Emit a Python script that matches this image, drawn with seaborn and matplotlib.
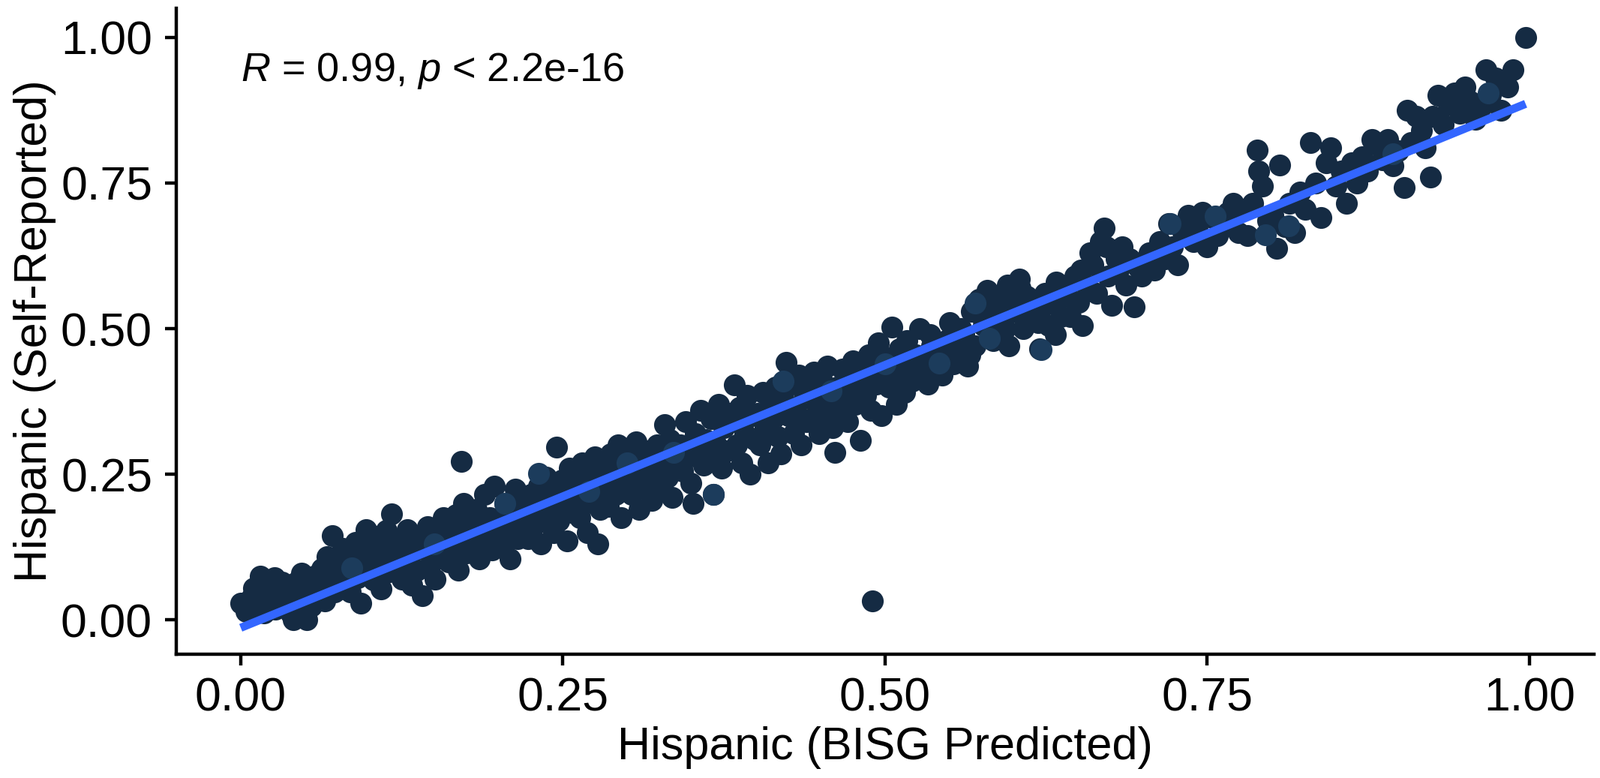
import matplotlib
matplotlib.use("Agg")
import matplotlib.pyplot as plt
import numpy as np
import pandas as pd
import seaborn as sns

# ---- data (Hispanic share per unit) ----
bisg = [
    0.000, 0.004, 0.008, 0.012, 0.015, 0.018, 0.019, 0.010,
    0.021, 0.024, 0.027, 0.030, 0.032, 0.035, 0.037, 0.039, 0.026, 0.033,
    0.041, 0.043, 0.045, 0.047, 0.049, 0.051, 0.053, 0.055, 0.057, 0.059,
    0.061, 0.063, 0.065, 0.067, 0.069, 0.071, 0.073, 0.075, 0.077, 0.079,
    0.081, 0.083, 0.085, 0.087, 0.089, 0.091, 0.093, 0.095, 0.097, 0.099,
    0.101, 0.103, 0.105, 0.107, 0.109, 0.111, 0.113, 0.115, 0.117, 0.119,
    0.121, 0.123, 0.125, 0.127, 0.129, 0.131, 0.133, 0.135, 0.137, 0.139,
    0.141, 0.143, 0.145, 0.147, 0.149, 0.151, 0.153, 0.155, 0.157, 0.159,
    0.161, 0.163, 0.165, 0.167, 0.169, 0.171, 0.173, 0.175, 0.177, 0.179, 0.171,
    0.181, 0.183, 0.185, 0.187, 0.189, 0.191, 0.193, 0.195, 0.197, 0.199,
    0.201, 0.203, 0.205, 0.207, 0.209, 0.211, 0.213, 0.215, 0.217, 0.219,
    0.221, 0.223, 0.225, 0.227, 0.229, 0.231, 0.233, 0.235, 0.237, 0.239,
    0.241, 0.243, 0.245, 0.247, 0.249, 0.251, 0.253, 0.255, 0.257, 0.259, 0.245,
    0.261, 0.263, 0.265, 0.267, 0.269, 0.271, 0.273, 0.275, 0.277, 0.279,
    0.281, 0.283, 0.285, 0.287, 0.289, 0.291, 0.293, 0.295, 0.297, 0.299,
    0.301, 0.303, 0.305, 0.307, 0.309, 0.311, 0.313, 0.315, 0.317, 0.319,
    0.321, 0.323, 0.325, 0.327, 0.329, 0.331, 0.333, 0.335, 0.337, 0.339,
    0.341, 0.343, 0.345, 0.347, 0.349, 0.351, 0.353, 0.355, 0.357, 0.359,
    0.361, 0.363, 0.365, 0.367, 0.369, 0.371, 0.373, 0.375, 0.377, 0.379,
    0.381, 0.383, 0.385, 0.387, 0.389, 0.391, 0.393, 0.395, 0.397, 0.399,
    0.401, 0.403, 0.405, 0.407, 0.409, 0.411, 0.413, 0.415, 0.417, 0.419,
    0.421, 0.423, 0.425, 0.427, 0.429, 0.431, 0.433, 0.435, 0.437, 0.439,
    0.441, 0.443, 0.445, 0.447, 0.449, 0.451, 0.453, 0.455, 0.457, 0.459,
    0.461, 0.463, 0.465, 0.467, 0.469, 0.471, 0.473, 0.475, 0.477, 0.479,
    0.481, 0.483, 0.485, 0.487, 0.489, 0.491, 0.493, 0.495, 0.497, 0.499, 0.490,
    0.501, 0.503, 0.505, 0.507, 0.509, 0.511, 0.513, 0.515, 0.517, 0.519,
    0.521, 0.524, 0.527, 0.530, 0.533, 0.536, 0.539, 0.526, 0.535,
    0.541, 0.544, 0.547, 0.550, 0.553, 0.556, 0.559, 0.546, 0.555,
    0.561, 0.564, 0.567, 0.570, 0.573, 0.576, 0.579, 0.566, 0.575,
    0.581, 0.584, 0.587, 0.590, 0.593, 0.596, 0.599, 0.586, 0.595,
    0.601, 0.604, 0.607, 0.610, 0.613, 0.616, 0.619, 0.605, 0.620,
    0.621, 0.624, 0.627, 0.630, 0.633, 0.636, 0.639, 0.632,
    0.641, 0.644, 0.647, 0.650, 0.653, 0.656, 0.659, 0.652,
    0.661, 0.664, 0.667, 0.670, 0.673, 0.676, 0.679, 0.672,
    0.681, 0.684, 0.687, 0.690, 0.693, 0.696, 0.699,
    0.702, 0.705, 0.709, 0.713, 0.717, 0.720,
    0.723, 0.727, 0.731, 0.735, 0.739,
    0.742, 0.746, 0.750, 0.754, 0.758,
    0.762, 0.766, 0.770, 0.774, 0.778,
    0.781, 0.785, 0.789, 0.793, 0.797, 0.790,
    0.801, 0.804, 0.806, 0.810, 0.814, 0.818,
    0.822, 0.826, 0.830, 0.834, 0.838,
    0.842, 0.846, 0.850, 0.854, 0.858,
    0.862, 0.866, 0.870, 0.874, 0.878,
    0.882, 0.886, 0.890, 0.894, 0.898,
    0.903, 0.905, 0.908, 0.912, 0.916, 0.919,
    0.923, 0.925, 0.929, 0.933, 0.937,
    0.942, 0.946, 0.950, 0.954, 0.958,
    0.962, 0.966, 0.970, 0.974, 0.978,
    0.983, 0.987, 0.997,
]

self_reported = [
    0.028, 0.015, 0.038, 0.025, 0.075, 0.012, 0.048, 0.055,
    0.033, 0.058, 0.018, 0.043, 0.065, 0.028, 0.051, 0.010, 0.072, 0.038,
    0.000, 0.065, 0.033, 0.080, 0.048, 0.000, 0.058, 0.023, 0.075, 0.043,
    0.053, 0.088, 0.033, 0.108, 0.068, 0.145, 0.048, 0.098, 0.078, 0.123,
    0.063, 0.113, 0.048, 0.093, 0.133, 0.073, 0.028, 0.103, 0.155, 0.083,
    0.123, 0.068, 0.143, 0.098, 0.053, 0.113, 0.153, 0.083, 0.182, 0.128,
    0.090, 0.140, 0.070, 0.115, 0.155, 0.100, 0.060, 0.130, 0.085, 0.145,
    0.042, 0.120, 0.160, 0.095, 0.135, 0.070, 0.150, 0.110, 0.175, 0.125,
    0.100, 0.155, 0.130, 0.180, 0.085, 0.140, 0.200, 0.115, 0.165, 0.145, 0.272,
    0.130, 0.190, 0.105, 0.160, 0.215, 0.140, 0.175, 0.120, 0.230, 0.155,
    0.170, 0.125, 0.200, 0.150, 0.105, 0.185, 0.225, 0.140, 0.165, 0.210,
    0.180, 0.140, 0.215, 0.160, 0.195, 0.230, 0.130, 0.175, 0.245, 0.205,
    0.190, 0.150, 0.225, 0.170, 0.240, 0.205, 0.135, 0.260, 0.185, 0.220, 0.297,
    0.235, 0.175, 0.270, 0.200, 0.150, 0.250, 0.215, 0.280, 0.130, 0.190,
    0.230, 0.260, 0.195, 0.285, 0.245, 0.215, 0.300, 0.175, 0.265, 0.235,
    0.275, 0.215, 0.250, 0.305, 0.190, 0.265, 0.230, 0.290, 0.245, 0.205,
    0.260, 0.300, 0.225, 0.280, 0.335, 0.245, 0.310, 0.210, 0.290, 0.270,
    0.300, 0.255, 0.340, 0.280, 0.235, 0.200, 0.320, 0.290, 0.360, 0.265,
    0.310, 0.275, 0.345, 0.215, 0.300, 0.370, 0.260, 0.330, 0.290, 0.355,
    0.340, 0.404, 0.300, 0.365, 0.270, 0.320, 0.385, 0.250, 0.350, 0.310,
    0.355, 0.300, 0.390, 0.330, 0.270, 0.375, 0.345, 0.400, 0.315, 0.285,
    0.380, 0.442, 0.350, 0.405, 0.320, 0.365, 0.420, 0.300, 0.390, 0.340,
    0.395, 0.345, 0.425, 0.370, 0.320, 0.410, 0.355, 0.435, 0.385, 0.330,
    0.288, 0.400, 0.360, 0.430, 0.380, 0.340, 0.415, 0.445, 0.370, 0.395,
    0.308, 0.420, 0.385, 0.455, 0.360, 0.440, 0.405, 0.475, 0.350, 0.430, 0.033,
    0.450, 0.400, 0.502, 0.420, 0.370, 0.465, 0.435, 0.390, 0.480, 0.445,
    0.410, 0.455, 0.500, 0.430, 0.405, 0.470, 0.445, 0.425, 0.490,
    0.455, 0.420, 0.480, 0.510, 0.440, 0.470, 0.500, 0.435, 0.455,
    0.490, 0.435, 0.530, 0.470, 0.550, 0.505, 0.566, 0.455, 0.520,
    0.540, 0.480, 0.515, 0.555, 0.500, 0.470, 0.545, 0.525, 0.575,
    0.530, 0.585, 0.500, 0.555, 0.520, 0.545, 0.510, 0.570, 0.465,
    0.535, 0.560, 0.505, 0.545, 0.580, 0.520, 0.555, 0.490,
    0.560, 0.520, 0.590, 0.545, 0.505, 0.575, 0.630, 0.600,
    0.610, 0.560, 0.650, 0.673, 0.590, 0.540, 0.620, 0.640,
    0.600, 0.640, 0.575, 0.620, 0.538, 0.605, 0.590,
    0.610, 0.630, 0.600, 0.650, 0.620, 0.680,
    0.640, 0.610, 0.665, 0.695, 0.650,
    0.670, 0.700, 0.640, 0.690, 0.660,
    0.680, 0.700, 0.715, 0.665, 0.705,
    0.660, 0.715, 0.806, 0.745, 0.685, 0.770,
    0.695, 0.638, 0.781, 0.675, 0.715, 0.665,
    0.735, 0.705, 0.820, 0.750, 0.690,
    0.785, 0.810, 0.745, 0.770, 0.715,
    0.785, 0.750, 0.795, 0.770, 0.825,
    0.815, 0.790, 0.825, 0.780, 0.805,
    0.742, 0.875, 0.820, 0.865, 0.840, 0.810,
    0.760, 0.865, 0.900, 0.850, 0.885,
    0.905, 0.870, 0.915, 0.890, 0.860,
    0.880, 0.945, 0.900, 0.930, 0.875,
    0.915, 0.945, 1.000,
]

# a few points drawn in the lighter shade of the colour gradient
light_bisg = [0.086, 0.205, 0.231, 0.336, 0.367, 0.421, 0.458, 0.542, 0.570, 0.581, 0.621,
              0.721, 0.756, 0.795, 0.813, 0.894, 0.968, 0.150, 0.270, 0.300, 0.500]
light_self = [0.089, 0.200, 0.252, 0.287, 0.216, 0.410, 0.393, 0.441, 0.544, 0.483, 0.464,
              0.680, 0.693, 0.661, 0.676, 0.800, 0.904, 0.130, 0.220, 0.270, 0.440]

tick_values = [0.00, 0.25, 0.50, 0.75, 1.00]
tick_labels = ["0.00", "0.25", "0.50", "0.75", "1.00"]
x_title = "Hispanic (BISG Predicted)"
y_title = "Hispanic (Self-Reported)"
annotation = r"$R$ = 0.99, $p$ < 2.2e-16"

dark_color = "#152B43"
light_color = "#1C3C5C"
line_color = "#3366FF"

# ---- build frames ----
dark_df = pd.DataFrame({"bisg": bisg, "self": self_reported})
light_df = pd.DataFrame({"bisg": light_bisg, "self": light_self})
all_df = pd.concat([dark_df, light_df], ignore_index=True)

sns.set_theme(style="ticks")
plt.rcParams["font.family"] = ["Liberation Sans", "DejaVu Sans"]
plt.rcParams["mathtext.fontset"] = "custom"
plt.rcParams["mathtext.rm"] = "Liberation Sans"
plt.rcParams["mathtext.it"] = "Liberation Sans:italic"

fig = plt.figure(figsize=(21.33, 10.37), dpi=100)
ax = fig.add_axes([0.1102, 0.1591, 0.8860, 0.8303])

sns.scatterplot(data=dark_df, x="bisg", y="self", ax=ax, color=dark_color,
                s=440, linewidth=0, legend=False, zorder=2)
sns.scatterplot(data=light_df, x="bisg", y="self", ax=ax, color=light_color,
                s=440, linewidth=0, legend=False, zorder=2)
sns.regplot(data=all_df, x="bisg", y="self", ax=ax, scatter=False, ci=None,
            color=line_color, line_kws={"linewidth": 7.8, "zorder": 3,
                                        "solid_capstyle": "butt"})

ax.set_xlim(-0.05, 1.05)
ax.set_ylim(-0.059, 1.050)
ax.set_xticks(tick_values)
ax.set_xticklabels(tick_labels)
ax.set_yticks(tick_values)
ax.set_yticklabels(tick_labels)

for side in ["top", "right"]:
    ax.spines[side].set_visible(False)
for side in ["left", "bottom"]:
    ax.spines[side].set_linewidth(3.2)
    ax.spines[side].set_color("black")

ax.tick_params(axis="both", which="major", length=11, width=3.2, color="black",
               labelsize=45, labelcolor="black")
ax.tick_params(axis="x", pad=10)
ax.tick_params(axis="y", pad=12)

ax.set_xlabel(x_title, fontsize=44, color="black")
ax.set_ylabel(y_title, fontsize=44, color="black")
ax.xaxis.set_label_coords(0.5, -0.112)
ax.yaxis.set_label_coords(-0.0847, 0.5)

ax.text(0.0, 0.943, annotation, fontsize=39, color="black", ha="left", va="center",
        transform=ax.transData)

ax.set_facecolor("white")
fig.patch.set_facecolor("white")
fig.savefig("out.png", dpi=100, facecolor="white")
